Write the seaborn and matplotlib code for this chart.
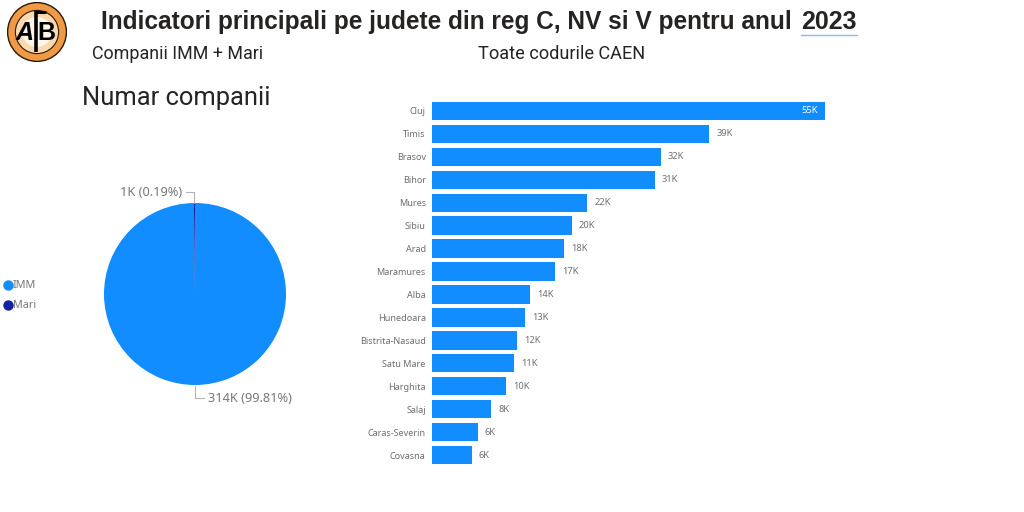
# Indicatori principali pe judete - pie + horizontal bars

import matplotlib
matplotlib.use('Agg')
import matplotlib.pyplot as plt
from matplotlib.lines import Line2D
from matplotlib.patches import Circle
import pandas
import seaborn as sns

judete = ['Cluj', 'Timis', 'Brasov', 'Bihor', 'Mures', 'Sibiu', 'Arad', 'Maramures', 'Alba',
          'Hunedoara', 'Bistrita-Nasaud', 'Satu Mare', 'Harghita', 'Salaj', 'Caras-Severin', 'Covasna']
companii = [55.0, 38.8, 32.0, 31.2, 21.7, 19.6, 18.5, 17.2, 13.7, 13.0, 11.9, 11.5, 10.4, 8.3, 6.4, 5.6]
etichete = ['55K', '39K', '32K', '31K', '22K', '20K', '18K', '17K', '14K', '13K', '12K', '11K', '10K', '8K', '6K', '6K']

tip_companie = ['IMM', 'Mari']
pie_values = [99.81, 0.19]
pie_colors = ['#118DFF', '#12239E']

W, H = 1024, 512

sns.set_theme(style='white')
plt.rcParams['font.family'] = ['Noto Sans', 'DejaVu Sans']

fig = plt.figure(figsize=(W / 100, H / 100), dpi=100)


def px_axes(x0, y0, x1, y1):
    # y is counted from the top of the picture
    return fig.add_axes([x0 / W, 1 - y1 / H, (x1 - x0) / W, (y1 - y0) / H])


def px_text(x, y, s, **kw):
    fig.text(x / W, 1 - y / H, s, va='center', **kw)


def px_line(xs, ys, **kw):
    fig.add_artist(Line2D([x / W for x in xs], [1 - y / H for y in ys], transform=fig.transFigure, **kw))


# titles
px_text(101, 22, 'Indicatori principali pe judete din reg C, NV si V pentru anul', fontsize=17.65,
        fontweight='bold', color='#252423', family='Liberation Sans')
px_text(801, 22, '2023', fontsize=18, fontweight='bold', color='#252423', family='Liberation Sans')
px_line([801, 857], [35, 35], color='#7FBFF5', lw=1)
px_text(92, 54, 'Companii IMM + Mari', fontsize=12.9, color='#252423', family='Roboto')
px_text(478, 54, 'Toate codurile CAEN', fontsize=13.1, color='#252423', family='Roboto')
px_text(82, 98, 'Numar companii', fontsize=18.4, color='#252423', family='Roboto')

# logo
ax_logo = px_axes(6, 2, 68, 62)
ax_logo.set_xlim(-1, 1)
ax_logo.set_ylim(-1, 1)
ax_logo.set_aspect('equal')
ax_logo.axis('off')
ax_logo.add_patch(Circle((0, 0), 0.98, fc='#F09A45', ec='#2A1A0A', lw=1))
ax_logo.add_patch(Circle((0, 0), 0.72, fc='#FBD9B0', ec='#2A1A0A', lw=0.8))
ax_logo.add_patch(Circle((0, 0), 0.5, fc='#FFF6EA', ec='none'))
ax_logo.plot([-0.05, -0.05], [-0.68, 0.7], color='black', lw=2.6, solid_capstyle='butt')
ax_logo.plot([-0.05, 0.3], [0.68, 0.68], color='black', lw=2.2, solid_capstyle='butt')
ax_logo.text(-0.42, -0.04, 'A', fontsize=18, fontweight='bold', style='italic', color='black',
             ha='center', va='center', family='Liberation Sans')
ax_logo.text(0.32, -0.04, 'B', fontsize=18, fontweight='bold', color='black',
             ha='center', va='center', family='Liberation Sans')

# pie
ax_pie = px_axes(104, 203, 286, 385)
ax_pie.pie(pie_values, colors=pie_colors, startangle=90, counterclock=False, radius=1,
           wedgeprops={'linewidth': 0})
ax_pie.set_xlim(-1, 1)
ax_pie.set_ylim(-1, 1)

px_text(120, 193, '1K (0.19%)', fontsize=9.2, color='#777777')
px_line([186, 194, 194], [192, 192, 203], color='#B3B3B3', lw=0.8)
px_text(208, 398, '314K (99.81%)', fontsize=9.2, color='#777777')
px_line([195, 195, 204], [386, 398, 398], color='#B3B3B3', lw=0.8)

# legend
for y, name, color in zip([285, 305], tip_companie, pie_colors):
    px_line([8], [y], marker='o', ms=6.5, color=color, ls='none')
    px_text(13, y, name, fontsize=7.8, color='#777777')

# bars
df = pandas.DataFrame({'judet': judete, 'companii': companii})
ax_bar = px_axes(432, 99.5, 825, 466.5)
sns.barplot(data=df, y='judet', x='companii', color='#118DFF', saturation=1, width=0.8, linewidth=0, ax=ax_bar)
ax_bar.set_xlim(0, 55)
ax_bar.set_xlabel('')
ax_bar.set_ylabel('')
ax_bar.set_xticks([])
ax_bar.tick_params(axis='y', length=0, pad=4.5, labelsize=6.5, labelcolor='#6E6E6E')
sns.despine(ax=ax_bar, left=True, bottom=True)

for i, (val, lab) in enumerate(zip(companii, etichete)):
    if i == 0:
        ax_bar.annotate(lab, (val, i), xytext=(-5, 0), textcoords='offset points', ha='right', va='center',
                        fontsize=6.7, color='white')
    else:
        ax_bar.annotate(lab, (val, i), xytext=(5, 0), textcoords='offset points', ha='left', va='center',
                        fontsize=6.7, color='#6E6E6E')

fig.savefig('out.png', dpi=100, facecolor='white')
